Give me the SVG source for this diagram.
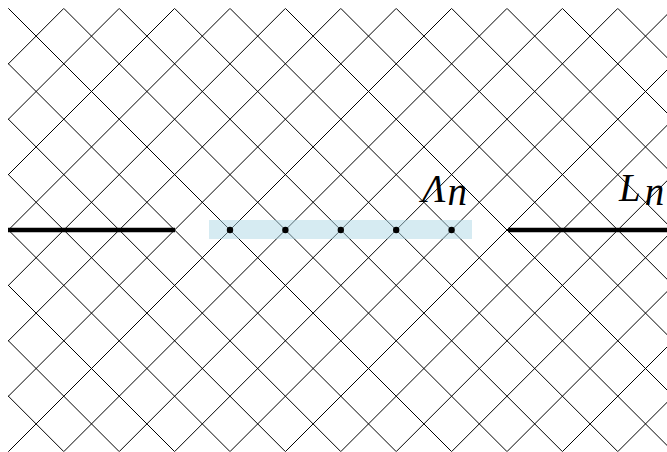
<svg xmlns="http://www.w3.org/2000/svg" width="667" height="452" viewBox="0 0 667 452">
<style>
.grid{fill:none;stroke:#000;stroke-width:1}
.thick{stroke:#000;stroke-width:4.5;fill:none}
.dot{fill:#000}
.lbl{font-family:"Liberation Serif","DejaVu Serif",serif;font-style:italic;font-size:39px;fill:#000}
</style>
<defs>
<clipPath id="lat"><rect x="8" y="8.4" width="700" height="443.2"/></clipPath>
</defs>
<rect width="667" height="452" fill="#fff"/>
<g id="lattice" class="grid" clip-path="url(#lat)">
<path d="M-543.2 -100L156.8 600M-487.8 -100L212.2 600M-432.4 -100L267.6 600M-377 -100L323 600M-321.6 -100L378.4 600M-266.2 -100L433.8 600M-210.8 -100L489.2 600M-155.4 -100L544.6 600M-100 -100L600 600M-44.6 -100L655.4 600M10.8 -100L710.8 600M66.2 -100L766.2 600M121.6 -100L821.6 600M177 -100L877 600M232.4 -100L932.4 600M287.8 -100L987.8 600M343.2 -100L1043.2 600M398.6 -100L1098.6 600M454 -100L1154 600M509.4 -100L1209.4 600"/>
<path d="M116.8 -100L-583.2 600M172.2 -100L-527.8 600M227.6 -100L-472.4 600M283 -100L-417 600M338.4 -100L-361.6 600M393.8 -100L-306.2 600M449.2 -100L-250.8 600M504.6 -100L-195.4 600M560 -100L-140 600M615.4 -100L-84.6 600M670.8 -100L-29.2 600M726.2 -100L26.2 600M781.6 -100L81.6 600M837 -100L137 600M892.4 -100L192.4 600M947.8 -100L247.8 600M1003.2 -100L303.2 600M1058.6 -100L358.6 600M1114 -100L414 600M1169.4 -100L469.4 600"/>
</g>
<g id="connectors">
<line class="thick" x1="8" y1="230" x2="175" y2="230"/>
<line class="thick" x1="508" y1="230" x2="667" y2="230"/>
</g>
<g id="lambda-region">
<rect x="209" y="220" width="263" height="19" fill="#add8e6" fill-opacity="0.5"/>
<circle class="dot" cx="230" cy="230" r="3.2"/>
<circle class="dot" cx="285.4" cy="230" r="3.2"/>
<circle class="dot" cx="340.8" cy="230" r="3.2"/>
<circle class="dot" cx="396.2" cy="230" r="3.2"/>
<circle class="dot" cx="451.6" cy="230" r="3.2"/>
</g>
<g id="label-lambda">
<text class="lbl" x="422" y="202">Λ<tspan dx="2" dy="3">n</tspan></text>
</g>
<g id="label-L">
<text class="lbl" x="619" y="201">L<tspan dx="4" dy="4">n</tspan></text>
</g>
</svg>
